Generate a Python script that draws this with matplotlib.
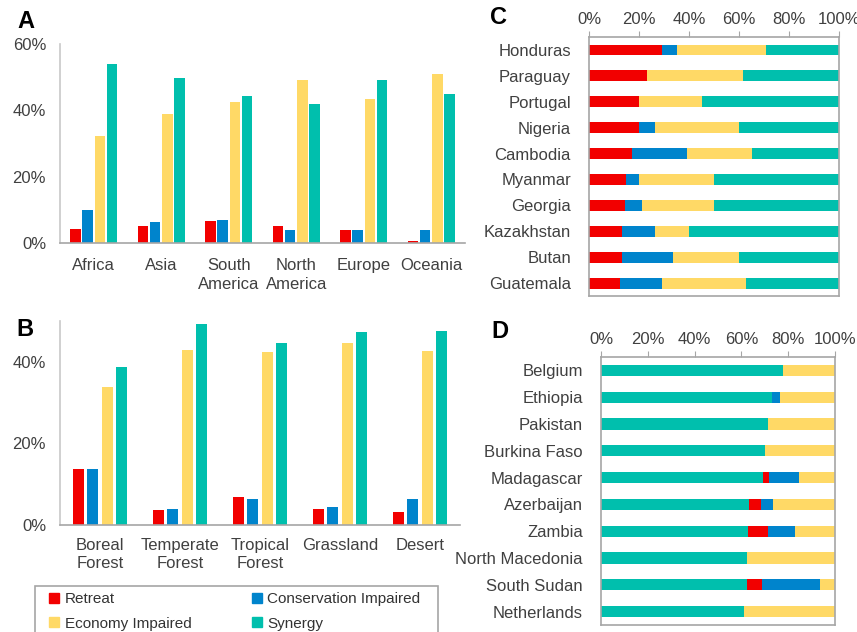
import numpy as np
import matplotlib.pyplot as plt
from matplotlib.lines import Line2D
from matplotlib.patches import Rectangle

plt.rcParams["font.family"] = ["Liberation Sans", "DejaVu Sans"]
plt.rcParams["font.size"] = 12

RED = "#F20000"
BLUE = "#0084CC"
YELLOW = "#FFD966"
GREEN = "#00BFAD"
TEXT = "#404040"
AXIS = "#A6A6A6"

series = ["Retreat", "Conservation Impaired", "Economy Impaired", "Synergy"]
colors = [RED, BLUE, YELLOW, GREEN]

# shares by continent (%)
continents = ["Africa", "Asia", "South\nAmerica", "North\nAmerica", "Europe", "Oceania"]
cont_retreat = [4.2, 5.1, 6.5, 5.2, 3.9, 0.5]
cont_conservation = [9.8, 6.4, 7.0, 4.0, 3.8, 4.0]
cont_economy = [32.4, 39.0, 42.5, 49.1, 43.5, 51.1]
cont_synergy = [54.0, 49.8, 44.3, 42.0, 49.2, 45.0]

# shares by biome (%)
biomes = ["Boreal\nForest", "Temperate\nForest", "Tropical\nForest", "Grassland", "Desert"]
biome_retreat = [13.7, 3.7, 6.8, 4.0, 3.3]
biome_conservation = [13.7, 4.0, 6.3, 4.5, 6.3]
biome_economy = [33.9, 43.0, 42.4, 44.5, 42.7]
biome_synergy = [38.8, 49.3, 44.6, 47.3, 47.6]

# countries with the highest retreat share
countries_c = ["Honduras", "Paraguay", "Portugal", "Nigeria", "Cambodia",
               "Myanmar", "Georgia", "Kazakhstan", "Butan", "Guatemala"]
c_retreat = [29.3, 23.0, 19.9, 19.9, 17.1, 14.8, 14.3, 13.2, 13.2, 12.4]
c_conservation = [6.0, 0.0, 0.0, 6.6, 22.1, 5.1, 7.0, 13.3, 20.2, 16.7]
c_economy = [35.4, 38.5, 25.2, 33.4, 26.0, 30.2, 28.8, 13.6, 26.5, 33.5]
c_synergy = [29.3, 38.5, 54.9, 40.1, 34.8, 49.9, 49.9, 59.9, 40.1, 37.4]

# countries with the highest synergy share
countries_d = ["Belgium", "Ethiopia", "Pakistan", "Burkina Faso", "Madagascar",
               "Azerbaijan", "Zambia", "North Macedonia", "South Sudan", "Netherlands"]
d_synergy = [77.6, 73.2, 71.5, 70.1, 69.2, 63.2, 62.7, 62.4, 62.4, 61.1]
d_retreat = [0.0, 0.0, 0.0, 0.0, 2.6, 5.2, 8.8, 0.0, 6.3, 0.0]
d_conservation = [0.0, 3.3, 0.0, 0.0, 12.8, 5.1, 11.4, 0.0, 25.0, 0.0]
d_economy = [22.4, 23.5, 28.5, 29.9, 15.4, 26.5, 17.1, 37.6, 6.3, 38.9]


def grouped_bars(ax, labels, values, ymax, yticks, step, width, label_pad):
    x = np.arange(len(labels))
    for k, (vals, col) in enumerate(zip(values, colors)):
        ax.bar(x + (k - 1.5) * step, vals, width, color=col)
    ax.set_xlim(-0.5, len(labels) - 0.5)
    ax.set_ylim(0, ymax)
    ax.set_xticks(x)
    ax.set_xticklabels(labels, color=TEXT, linespacing=1.3)
    ax.set_yticks(yticks)
    ax.set_yticklabels(["{}%".format(t) for t in yticks], color=TEXT)
    ax.tick_params(axis="both", length=0)
    ax.tick_params(axis="y", pad=10)
    ax.tick_params(axis="x", pad=label_pad)
    for side in ["top", "right"]:
        ax.spines[side].set_visible(False)
    ax.spines["left"].set_color("#C8C8C8")
    ax.spines["bottom"].set_color(AXIS)
    ax.spines["left"].set_linewidth(1.2)
    ax.spines["bottom"].set_linewidth(1.2)


def stacked_rows(ax, labels, values, order_colors):
    y = np.arange(len(labels))
    left = np.zeros(len(labels))
    for vals, col in zip(values, order_colors):
        vals = np.array(vals)
        ax.barh(y, vals, 0.42, left=left, color=col)
        left += vals
    ax.set_xlim(0, 100)
    ax.set_ylim(len(labels) - 0.5, -0.5)
    ax.set_yticks(y)
    ax.set_yticklabels(labels, color=TEXT)
    ticks = [0, 20, 40, 60, 80, 100]
    ax.set_xticks(ticks)
    ax.set_xticklabels(["{}%".format(t) for t in ticks], color=TEXT)
    ax.xaxis.tick_top()
    ax.tick_params(axis="x", length=4, color=AXIS, pad=3)
    ax.tick_params(axis="y", length=0, pad=13)
    for side in ax.spines:
        ax.spines[side].set_color(AXIS)
        ax.spines[side].set_linewidth(1.2)


fig = plt.figure(figsize=(8.57, 6.32), dpi=100)

ax_a = fig.add_axes([0.070, 0.6155, 0.4726, 0.3149])
grouped_bars(ax_a, continents, [cont_retreat, cont_conservation, cont_economy, cont_synergy],
             60, [0, 20, 40, 60], 0.18, 0.155, 11)

ax_b = fig.add_axes([0.070, 0.1693, 0.4668, 0.3228])
grouped_bars(ax_b, biomes, [biome_retreat, biome_conservation, biome_economy, biome_synergy],
             50, [0, 20, 40], 0.18, 0.14, 9)

ax_c = fig.add_axes([0.6873, 0.5316, 0.2917, 0.4098])
stacked_rows(ax_c, countries_c, [c_retreat, c_conservation, c_economy, c_synergy],
             [RED, BLUE, YELLOW, GREEN])

ax_d = fig.add_axes([0.7013, 0.0111, 0.2730, 0.4240])
stacked_rows(ax_d, countries_d, [d_synergy, d_retreat, d_conservation, d_economy],
             [GREEN, RED, BLUE, YELLOW])

# panel letters
for letter, px, py in [("A", 17, 21), ("B", 16, 329), ("C", 490, 18), ("D", 491, 331)]:
    fig.text(px / 857, 1 - py / 632, letter, fontsize=17, fontweight="bold",
             ha="left", va="center", color="black")

# legend box runs past the bottom edge of the figure
fig.patches.append(Rectangle((35 / 857, 1 - 640 / 632), 403 / 857, 54 / 632,
                             transform=fig.transFigure, facecolor="white",
                             edgecolor=AXIS, linewidth=1.2))
handles = [Line2D([], [], marker="s", linestyle="none", markersize=6.5,
                  markerfacecolor=c, markeredgecolor=c) for c in colors]
order = [0, 2, 1, 3]
leg = fig.legend([handles[i] for i in order], [series[i] for i in order],
                 ncol=2, loc="upper left",
                 bbox_to_anchor=(49 / 857, 1 - 592 / 632),
                 fontsize=11, frameon=False, handlelength=0.7,
                 handletextpad=0.35, borderpad=0, labelspacing=0.7,
                 columnspacing=3.9, borderaxespad=0)
for t in leg.get_texts():
    t.set_color("#333333")

fig.savefig("out.png", dpi=100)
